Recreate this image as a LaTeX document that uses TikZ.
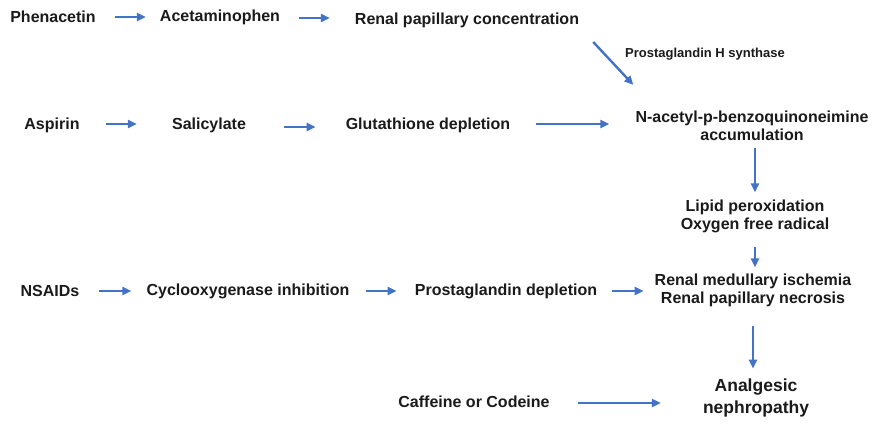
\documentclass[tikz,border=0pt]{standalone}
\usepackage{fontspec}
\setmainfont{Liberation Sans}
\usetikzlibrary{arrows.meta,calc}
\definecolor{arrblue}{HTML}{4472C4}
\definecolor{txt}{HTML}{1A1A1A}
\begin{document}
\begin{tikzpicture}[x=1pt,y=-1pt,
  lbl/.style={inner sep=0pt, font=\fontsize{16}{18}\selectfont\bfseries, text=txt, align=center},
  biglbl/.style={lbl, font=\fontsize{17.5}{22}\selectfont\bfseries},
  small/.style={lbl, font=\fontsize{13}{15}\selectfont\bfseries},
  arr/.style={draw=arrblue, line width=2.4pt, -{Triangle[length=9pt,width=8pt]}}]
\useasboundingbox (0,0) rectangle (874,431);
% row 1
\node[lbl] (phen) at (53,17) {Phenacetin};
\node[lbl] (acet) at (220,17) {Acetaminophen};
\node[lbl] (rpc) at (467,20) {Renal papillary concentration};
\node[lbl] (napqi) at (752,126) {N-acetyl-p-benzoquinoneimine\\accumulation};
\node[small] (phs) at (705,54) {Prostaglandin H synthase};
% row 2
\node[lbl] (asp) at (52,125) {Aspirin};
\node[lbl] (sal) at (209,125) {Salicylate};
\node[lbl] (glu) at (428,125) {Glutathione depletion};
\node[lbl] (lipid) at (755,216) {Lipid peroxidation\\Oxygen free radical};
% row 3
\node[lbl] (nsaid) at (50,291) {NSAIDs};
\node[lbl] (cox) at (248,291) {Cyclooxygenase inhibition};
\node[lbl] (pgd) at (506,291) {Prostaglandin depletion};
\node[lbl] (rmi) at (753,290) {Renal medullary ischemia\\Renal papillary necrosis};
% row 4
\node[lbl] (caf) at (474,402) {Caffeine or Codeine};
\node[biglbl] (an) at (756,398) {Analgesic\\nephropathy};
% connectors
\draw[arr, shorten <=19pt, shorten >=14pt] (phen.east) -- (phen.east -| acet.west);
\draw[arr, shorten <=19pt, shorten >=25pt] ($(acet.east)+(0,1)$) -- ($(acet.east -| rpc.west)+(0,1)$);
\draw[arr] ($(rpc.east)+(14,22)$) -- ($(napqi.north west)+(-2,-26)$);
\draw[arr, shorten <=26pt, shorten >=35pt] ($(asp.east)+(0,-1)$) -- ($(asp.east -| sal.west)+(0,-1)$);
\draw[arr, shorten <=38pt, shorten >=30pt] ($(sal.east)+(0,2)$) -- ($(sal.east -| glu.west)+(0,2)$);
\draw[arr, shorten <=26pt, shorten >=26pt] ($(glu.east)+(0,-1)$) -- ($(glu.east -| napqi.west)+(0,-1)$);
\draw[arr, shorten <=7pt, shorten >=7pt] (lipid.north |- napqi.south) -- (lipid.north);
\draw[arr, shorten <=14pt, shorten >=6pt] (lipid.south) -- (lipid.south |- rmi.north);
\draw[arr, shorten <=19pt, shorten >=15pt] (nsaid.east) -- (nsaid.east -| cox.west);
\draw[arr, shorten <=16pt, shorten >=18pt] (cox.east) -- (cox.east -| pgd.west);
\draw[arr, shorten <=15pt, shorten >=11pt] (pgd.east) -- (pgd.east -| rmi.west);
\draw[arr, shorten <=19pt, shorten >=10pt] (rmi.south) -- (rmi.south |- an.north);
\draw[arr, shorten <=28pt, shorten >=42pt] ($(caf.east)+(0,1)$) -- ($(caf.east -| an.west)+(0,1)$);
\end{tikzpicture}
\end{document}
